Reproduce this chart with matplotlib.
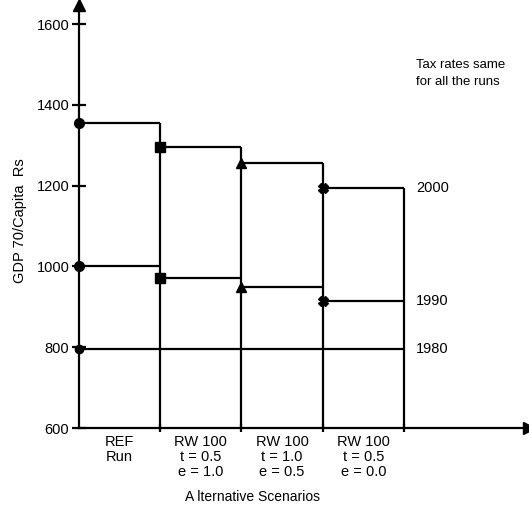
import numpy as np
import matplotlib.pyplot as plt

plt.rcParams['font.family'] = ['Liberation Sans', 'DejaVu Sans']

scenarios = ["REF\nRun", "RW 100\nt = 0.5\ne = 1.0", "RW 100\nt = 1.0\ne = 0.5", "RW 100\nt = 0.5\ne = 0.0"]
gdp_2000 = [1355, 1295, 1255, 1195]
gdp_1990 = [1000, 972, 950, 915]
gdp_1980 = [795, 795, 795, 795]
markers = ['o', 's', '^', 'X']
yticks = [600, 800, 1000, 1200, 1400, 1600]

fig = plt.figure(figsize=(5.29, 5.19), dpi=100)
ax = fig.add_axes([79/529, 91/519, 450/529, 0.815])
ymin, ymax = 600, 1647
n = len(scenarios)
lw = 1.6

# 2000 outlines (bars from the axis)
for i, v in enumerate(gdp_2000):
    ax.hlines(v, i, i + 1, color='black', lw=lw)
    ax.vlines(i + 1, ymin, v, color='black', lw=lw)
    ax.plot(i, v, marker=markers[i], color='black', ms=6.5 if i == 3 else 7, clip_on=False)
# 1990 steps
for i, v in enumerate(gdp_1990):
    ax.hlines(v, i, i + 1, color='black', lw=lw)
    ax.plot(i, v, marker=markers[i], color='black', ms=6.5 if i == 3 else 7, clip_on=False)
# 1980 line
ax.hlines(gdp_1980[0], 0, n, color='black', lw=lw)
ax.plot(0, gdp_1980[0], marker='o', color='black', ms=6, clip_on=False)

ax.text(n + 0.15, gdp_2000[-1], "2000", va='center', fontsize=10.5)
ax.text(n + 0.15, gdp_1990[-1], "1990", va='center', fontsize=10.5)
ax.text(n + 0.15, gdp_1980[-1], "1980", va='center', fontsize=10.5)
ax.text(n + 0.15, 1478, "Tax rates same\nfor all the runs", va='center', fontsize=9.5, linespacing=1.55)

ax.set_xlim(0, 5.54)
ax.set_ylim(ymin, ymax)
for s in ['top', 'right']:
    ax.spines[s].set_visible(False)
for s in ['left', 'bottom']:
    ax.spines[s].set_linewidth(lw)
ax.plot(0, 1, marker='^', color='black', ms=9, transform=ax.transAxes, clip_on=False)
ax.plot(1, 0, marker='>', color='black', ms=8, transform=ax.transAxes, clip_on=False)

ax.set_yticks(yticks)
ax.set_yticklabels([str(t) for t in yticks], fontsize=10.5)
ax.tick_params(axis='y', direction='inout', length=10, width=lw, pad=2)
ax.set_xticks(np.arange(1, n + 1))
ax.set_xticklabels([])
ax.tick_params(axis='x', which='major', direction='inout', length=6, width=lw)
ax.set_xticks(np.arange(n) + 0.5, minor=True)
ax.set_xticklabels(scenarios, minor=True, fontsize=10.5, linespacing=1.1)
ax.tick_params(axis='x', which='minor', length=0, pad=5)

ax.set_xlabel("A lternative Scenarios", fontsize=10, x=0.385, labelpad=8)
ax.set_ylabel("GDP 70/Capita  Rs", fontsize=10.5, y=0.49, labelpad=7)

fig.savefig("out.png", dpi=100)
